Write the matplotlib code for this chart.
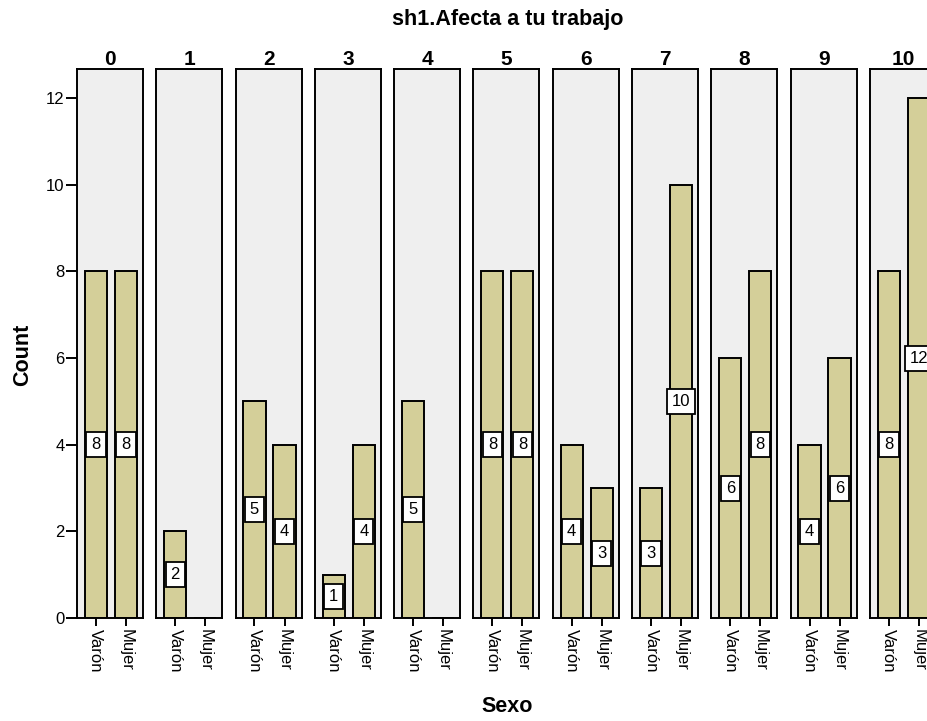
import matplotlib
matplotlib.use("Agg")
import matplotlib.pyplot as plt

plt.rcParams['font.family'] = ['Liberation Sans', 'DejaVu Sans']

# Responses to "sh1.Afecta a tu trabajo" (0-10), counted by sex
levels = ["0", "1", "2", "3", "4", "5", "6", "7", "8", "9", "10"]
sexes = ["Varón", "Mujer"]
varon = [8, 2, 5, 1, 5, 8, 4, 3, 6, 4, 8]
mujer = [8, 0, 4, 4, 0, 8, 3, 10, 8, 6, 12]
y_ticks = [0, 2, 4, 6, 8, 10, 12]

BAR = "#d4cf99"
PANEL_BG = "#efefef"
LW = 1.4

W, H = 928, 721
fig = plt.figure(figsize=(W / 100, H / 100), dpi=100)

panel_left0 = 77
panel_step = 79.3
panel_w = 66
panel_top = 69
panel_bot = 618

for i, lev in enumerate(levels):
    left = panel_left0 + i * panel_step
    ax = fig.add_axes([left / W, (H - panel_bot) / H, panel_w / W,
                       (panel_bot - panel_top) / H])
    ax.set_facecolor(PANEL_BG)
    vals = [varon[i], mujer[i]]
    xs = list(range(len(sexes)))
    ax.bar(xs, vals, width=0.74, color=BAR, edgecolor="black", linewidth=LW)
    for x, v in zip(xs, vals):
        if v > 0:
            ax.text(x, v / 2, str(v), ha="center", va="center", fontsize=12,
                    bbox=dict(boxstyle="square,pad=0.3", fc="white",
                              ec="black", lw=1.3))
    ax.set_xlim(-0.63, 1.57)
    ax.set_ylim(0, 12.67)
    ax.set_xticks(xs)
    ax.set_xticklabels(sexes, rotation=270, fontsize=12)
    ax.tick_params(axis="x", length=6, width=LW, pad=2)
    for sp in ax.spines.values():
        sp.set_linewidth(LW)
    if i == 0:
        ax.set_yticks(y_ticks)
        ax.set_yticklabels([str(t) for t in y_ticks], fontsize=12)
        ax.tick_params(axis="y", length=8, width=LW, pad=1)
    else:
        ax.set_yticks([])
    ax.set_title(lev, fontsize=15, fontweight="bold", pad=2)

fig.text(508 / W, 1 - 19 / H, "sh1.Afecta a tu trabajo", ha="center",
         va="center", fontsize=15.5, fontweight="bold")
fig.text(23 / W, 1 - 355 / H, "Count", ha="center", va="center",
         rotation=90, fontsize=15.5, fontweight="bold")
fig.text(507 / W, 1 - 707 / H, "Sexo", ha="center", va="center",
         fontsize=15.5, fontweight="bold")

fig.savefig("out.png", dpi=100)
